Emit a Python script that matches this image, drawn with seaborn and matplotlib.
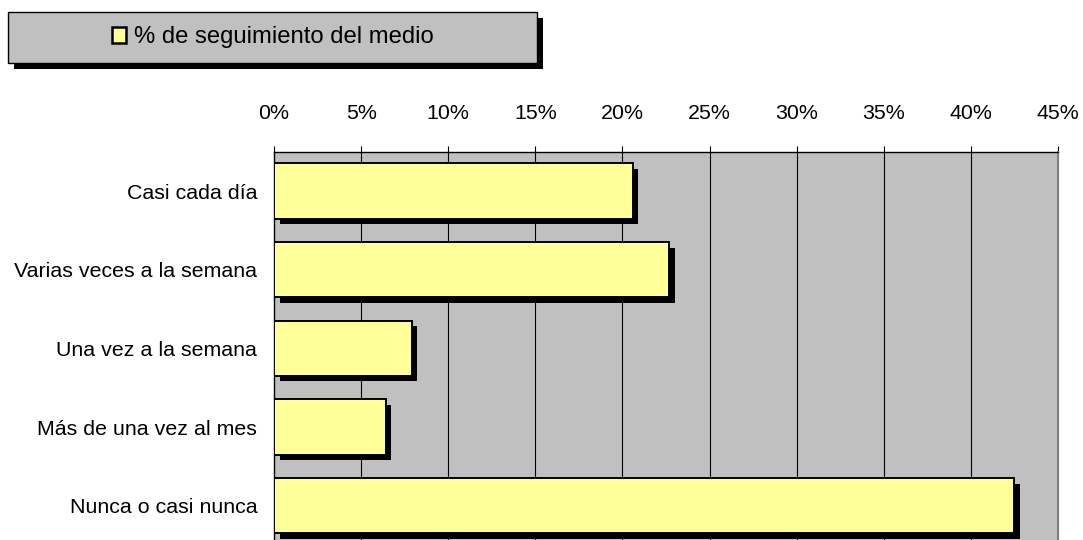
import matplotlib
matplotlib.use("Agg")
import matplotlib.pyplot as plt
import matplotlib.patheffects as pe
from matplotlib.patches import Rectangle, Patch
import seaborn as sns
import pandas as pd

categories = ["Casi cada día", "Varias veces a la semana", "Una vez a la semana",
              "Más de una vez al mes", "Nunca o casi nunca"]
values = [20.6, 22.7, 7.9, 6.4, 42.5]
x_ticks = [0, 5, 10, 15, 20, 25, 30, 35, 40, 45]
x_tick_labels = [f"{t}%" for t in x_ticks]
series_name = "% de seguimiento del medio"

sns.set_style("white")
plt.rcParams["font.family"] = ["Liberation Sans", "DejaVu Sans"]
plt.rcParams["text.color"] = "black"
plt.rcParams["xtick.color"] = "black"
plt.rcParams["ytick.color"] = "black"
plt.rcParams["xtick.labelcolor"] = "black"
plt.rcParams["ytick.labelcolor"] = "black"

W, H = 1083, 540
fig = plt.figure(figsize=(W / 100, H / 100), dpi=100)
ax = fig.add_axes([274 / W, 1 - 545 / H, (1058 - 274) / W, (545 - 151.7) / H])

df = pd.DataFrame({"cat": categories, "val": values})
shadow = [pe.SimplePatchShadow(offset=(4.0, -4.0), shadow_rgbFace="black", alpha=1.0), pe.Normal()]

sns.barplot(data=df, x="val", y="cat", orient="h", color="#FFFF99", saturation=1,
            edgecolor="black", linewidth=1.4, width=0.7, ax=ax, zorder=3)
for p in ax.patches:
    p.set_path_effects(shadow)

ax.set_facecolor("#C0C0C0")
ax.set_xlim(0, 45)
ax.set_ylim(4.5, -0.5)
ax.set_xticks(x_ticks)
ax.set_xticklabels(x_tick_labels)
ax.xaxis.tick_top()
ax.set_xlabel("")
ax.set_ylabel("")
for t in x_ticks[1:]:
    ax.axvline(t, color="black", lw=0.8, zorder=1)

ax.tick_params(axis="x", which="major", direction="out", length=4.5, width=0.8,
               color="black", labelcolor="black", labelsize=15.4, pad=16, top=True, bottom=False)
ax.tick_params(axis="y", which="major", length=0, labelsize=15.4, labelcolor="black", pad=12)
ax.set_yticks([0.5, 1.5, 2.5, 3.5], minor=True)
ax.tick_params(axis="y", which="minor", direction="out", length=4, width=0.8, color="#333333")

for s in ["top", "left"]:
    ax.spines[s].set_color("black")
    ax.spines[s].set_linewidth(1.0)
ax.spines["right"].set_color("#808080")
ax.spines["right"].set_linewidth(1.5)
ax.spines["bottom"].set_visible(False)

# legend box decoration
box = Rectangle((8 / W, 1 - 63 / H), (537 - 8) / W, (63 - 12) / H, transform=fig.transFigure,
                facecolor="#C0C0C0", edgecolor="black", linewidth=1.0, zorder=0)
box.set_path_effects(shadow)
fig.patches.append(box)

handle = Patch(facecolor="#FFFF99", edgecolor="black", linewidth=1.8)
fig.legend([handle], [series_name], loc="center", bbox_to_anchor=(272.5 / W, 1 - 37.5 / H),
           frameon=False, fontsize=17.2, handlelength=0.62, handleheight=0.62,
           handletextpad=0.3, borderpad=0, borderaxespad=0, labelcolor="black")

fig.savefig("out.png", dpi=100)
